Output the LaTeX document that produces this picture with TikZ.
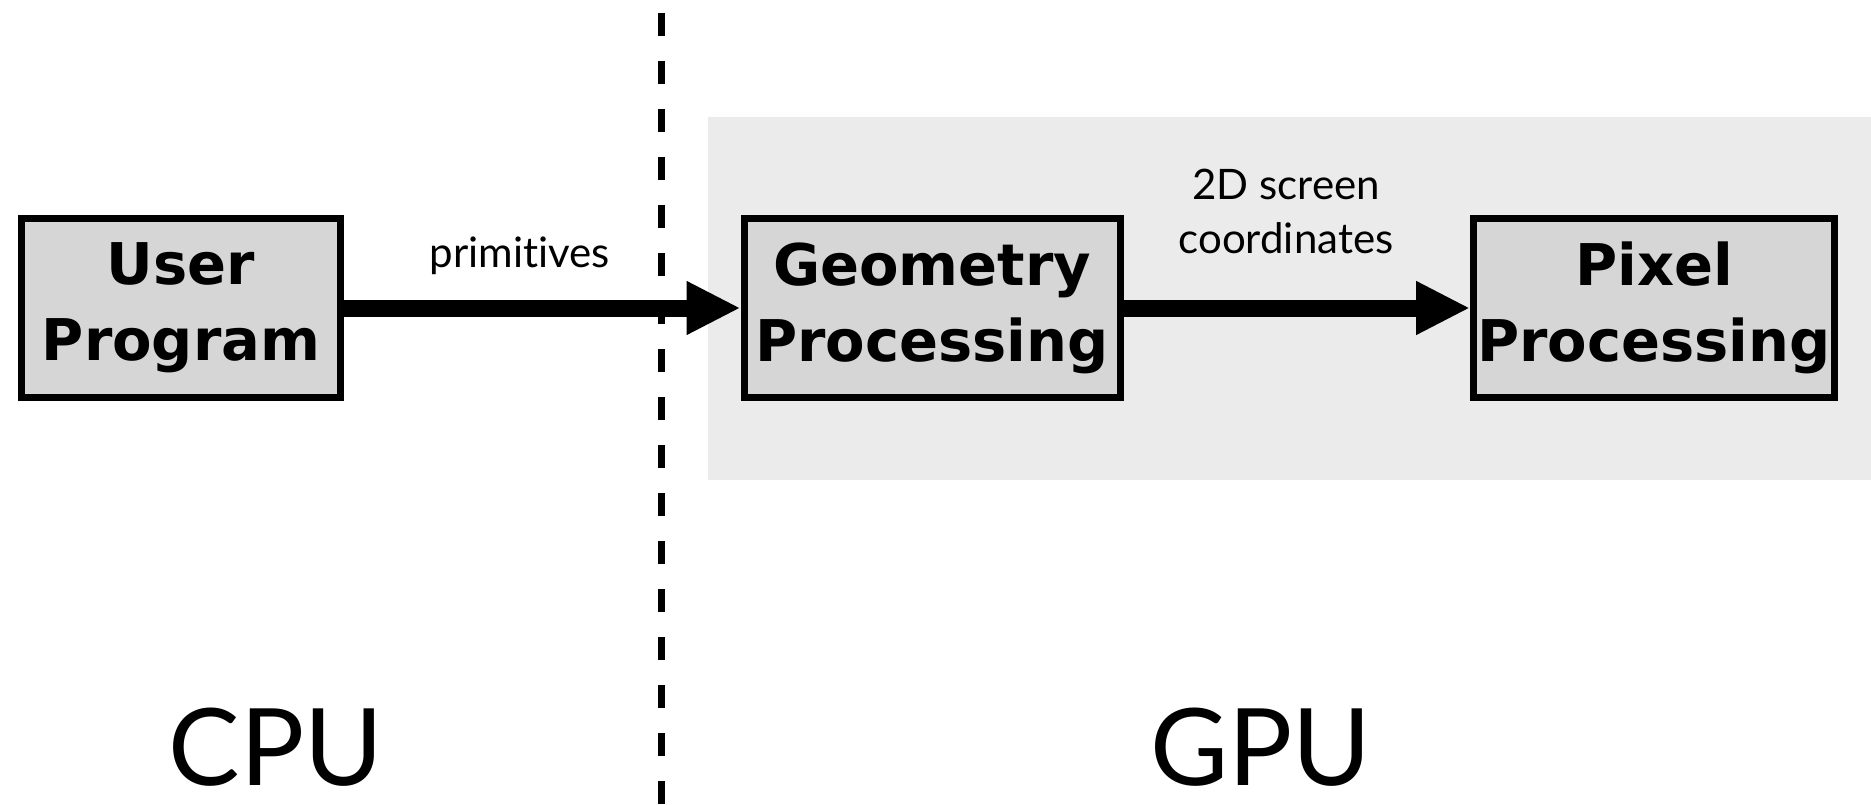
\documentclass[tikz,border=0pt]{standalone}
\usepackage{fontspec}
\setmainfont{Lato}[Ligatures=NoCommon]
\newfontfamily\boxfont{DejaVu Sans}
\usetikzlibrary{arrows.meta}
\definecolor{boxfill}{HTML}{D6D6D6}
\definecolor{gpubg}{HTML}{EBEBEB}
\begin{document}
\begin{tikzpicture}[x=1pt,y=-1pt,
  stage/.style={draw=black, line width=7pt, fill=boxfill, align=center,
    font=\boxfont\fontsize{57.5}{76}\selectfont\bfseries, inner sep=0pt, minimum height=178pt},
  flow/.style={line width=17pt, -{Triangle[length=54pt,width=50pt]}},
  lbl/.style={font=\fontsize{42}{54}\selectfont, align=center},
  big/.style={font=\fontsize{107}{110}\selectfont}]
\useasboundingbox (0,0) rectangle (1871,805);
\fill[gpubg] (708,117) rectangle (1871,480);
\coordinate (dtop) at (661,13);
\coordinate (dbot) at (661,805);
\draw[line width=7pt, dash pattern=on 23pt off 25pt] (dtop) -- (dbot);
\node[stage, minimum width=319pt] (user) at (181,308) {User\\Program};
\node[stage, minimum width=376pt] (geo) at (932,308) {Geometry\\Processing};
\node[stage, minimum width=361pt] (pix) at (1654,308) {Pixel\\Processing};
\draw[flow] (user.east) -- (geo.west);
\draw[flow] (geo.east) -- (pix.west);
\node[lbl, anchor=base] (prim) at (520,267) {primitives};
\node[lbl, anchor=base] (scr) at (1286,253) {2D screen\\coordinates};
\node[big, anchor=base] (cpu) at (276,785) {CPU};
\node[big, anchor=base] (gpu) at (1261,785) {GPU};
\end{tikzpicture}
\end{document}
